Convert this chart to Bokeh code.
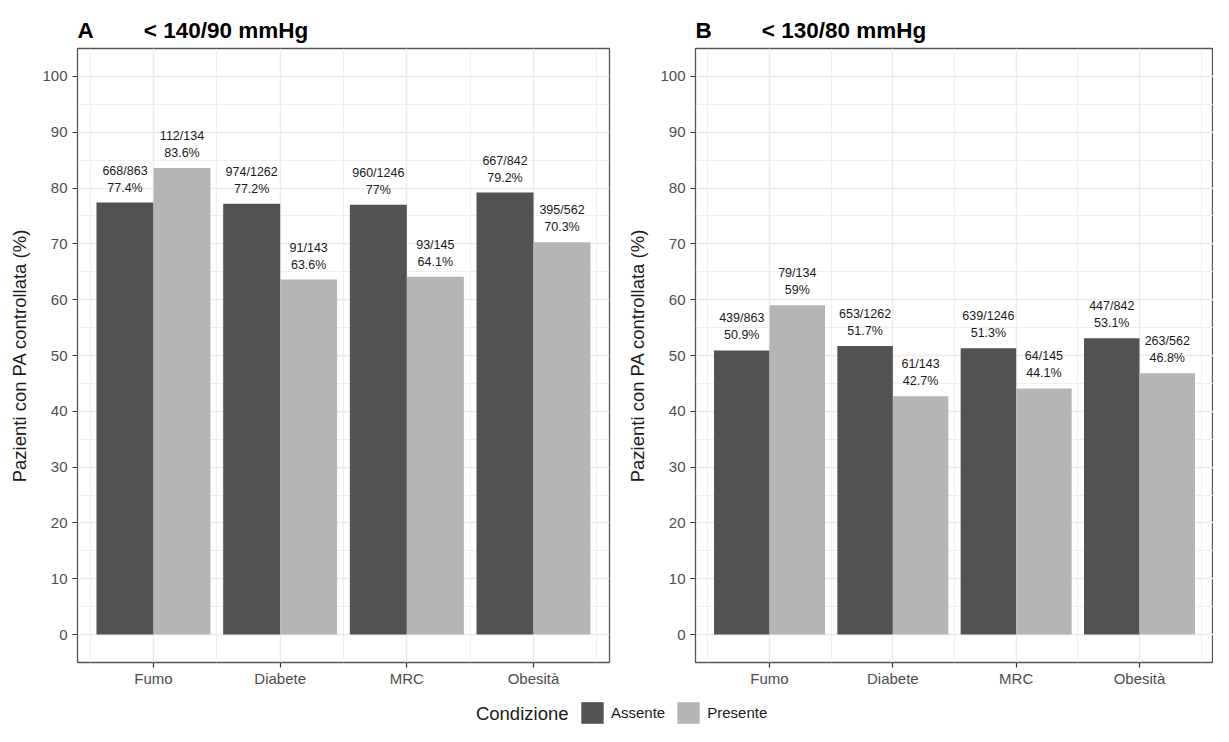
from bokeh.plotting import figure
from bokeh.models import Range1d, FixedTicker, Label, Legend, LegendItem
from bokeh.layouts import column, row
from bokeh.embed import file_html
from bokeh.resources import INLINE
from bokeh.core.properties import value

categories = ["Fumo", "Diabete", "MRC", "Obesità"]
groups = ["Assente", "Presente"]

a_assente = [77.4, 77.2, 77.0, 79.2]
a_presente = [83.6, 63.6, 64.1, 70.3]
a_assente_n = ["668/863", "974/1262", "960/1246", "667/842"]
a_presente_n = ["112/134", "91/143", "93/145", "395/562"]

b_assente = [50.9, 51.7, 51.3, 53.1]
b_presente = [59.0, 42.7, 44.1, 46.8]
b_assente_n = ["439/863", "653/1262", "639/1246", "447/842"]
b_presente_n = ["79/134", "61/143", "64/145", "263/562"]

y_ticks = [0, 10, 20, 30, 40, 50, 60, 70, 80, 90, 100]
colors = ["#525252", "#B5B5B5"]

FONT = "Liberation Sans"
FH = 614
NBSP = "\u00a0"


def make_panel(tag, title, ass, pre, ass_n, pre_n, frame_w, left, right):
    p = figure(frame_width=frame_w, frame_height=FH,
               x_range=Range1d(0.4, len(categories) + 0.6), y_range=Range1d(-5, 105),
               toolbar_location=None, output_backend="svg",
               min_border_left=left, min_border_right=right,
               min_border_top=48, min_border_bottom=26)
    xs = [i + 1 for i in range(len(categories))]
    half = 0.225
    p.vbar(x=[x - half for x in xs], top=ass, width=0.45, bottom=0,
           fill_color=colors[0], line_color=None)
    p.vbar(x=[x + half for x in xs], top=pre, width=0.45, bottom=0,
           fill_color=colors[1], line_color=None)
    for vals, ns, sign in ((ass, ass_n, -1), (pre, pre_n, 1)):
        lx = [x + sign * half for x in xs]
        pct = [f"{v:g}%" for v in vals]
        p.text(x=lx, y=vals, text=pct, text_align="center", text_baseline="alphabetic",
               y_offset=-15, text_font=value(FONT), text_font_size="12.5px",
               text_color="#1A1A1A")
        p.text(x=lx, y=vals, text=ns, text_align="center", text_baseline="alphabetic",
               y_offset=-32, text_font=value(FONT), text_font_size="12.5px",
               text_color="#1A1A1A")

    # axes
    p.xaxis.ticker = FixedTicker(ticks=xs, minor_ticks=[x - 0.5 for x in xs] + [xs[-1] + 0.5])
    p.xaxis.major_label_overrides = {x: c for x, c in zip(xs, categories)}
    p.yaxis.ticker = FixedTicker(ticks=y_ticks, minor_ticks=[t + 5 for t in y_ticks[:-1]])
    p.yaxis.axis_label = "Pazienti con PA controllata (%)"
    for ax in (p.xaxis[0], p.yaxis[0]):
        ax.axis_line_color = None
        ax.major_tick_line_color = "#333333"
        ax.major_tick_line_width = 1.2
        ax.major_tick_out = 5
        ax.major_tick_in = 0
        ax.minor_tick_line_color = None
        ax.major_label_text_font = FONT
        ax.major_label_text_font_size = "15px"
        ax.major_label_text_color = "#4D4D4D"
        ax.major_label_standoff = 5
    p.xaxis.major_label_standoff = 2
    p.yaxis.axis_label_text_font = FONT
    p.yaxis.axis_label_text_font_size = "18.5px"
    p.yaxis.axis_label_text_font_style = "normal"
    p.yaxis.axis_label_text_color = "#1A1A1A"
    p.yaxis.axis_label_standoff = 9

    for g in (p.xgrid[0], p.ygrid[0]):
        g.grid_line_color = "#EBEBEB"
        g.grid_line_width = 1.5
        g.minor_grid_line_color = "#EBEBEB"
        g.minor_grid_line_width = 0.8
    p.xgrid.ticker = p.xaxis.ticker
    p.ygrid.ticker = p.yaxis.ticker

    p.outline_line_color = "#555555"
    p.outline_line_width = 1.3
    p.background_fill_color = "white"
    p.border_fill_color = "white"

    p.title.text = tag + NBSP * 8 + title
    p.title.align = "left"
    p.title.text_font = FONT
    p.title.text_font_size = "22.5px"
    p.title.text_font_style = "bold"
    p.title.text_color = "black"
    p.title.standoff = 12
    return p


pA = make_panel("A", "< 140/90 mmHg", a_assente, a_presente, a_assente_n, a_presente_n,
                532, 77, 12)
pB = make_panel("B", "< 130/80 mmHg", b_assente, b_presente, b_assente_n, b_presente_n,
                518, 74, 0)

# legend strip
lf = figure(width=1213, height=38, x_range=Range1d(0, 1213), y_range=Range1d(0, 38),
            toolbar_location=None, output_backend="svg", min_border=0)
lf.axis.visible = False
lf.xgrid.visible = False
lf.ygrid.visible = False
lf.outline_line_color = None
rs = [lf.vbar(x=[-100], top=[-100], bottom=[-200], width=1, fill_color=c, line_color=None)
      for c in colors]
leg = Legend(items=[LegendItem(label=g, renderers=[r]) for g, r in zip(groups, rs)],
             orientation="horizontal", location=(578, 1), glyph_width=28, glyph_height=27,
             label_text_font=FONT, label_text_font_size="15px", label_text_color="#1A1A1A",
             label_standoff=5, spacing=9, padding=0, margin=0,
             border_line_alpha=0, background_fill_alpha=0)
lf.add_layout(leg, "center")
lf.add_layout(Label(x=568, y=14, text="Condizione", text_font=FONT, text_font_size="18.5px",
                    text_color="#1A1A1A", text_align="right", text_baseline="middle"))

layout = column(row(pA, pB, spacing=0), lf, spacing=0)
open("out.html", "w").write(file_html(layout, INLINE))
